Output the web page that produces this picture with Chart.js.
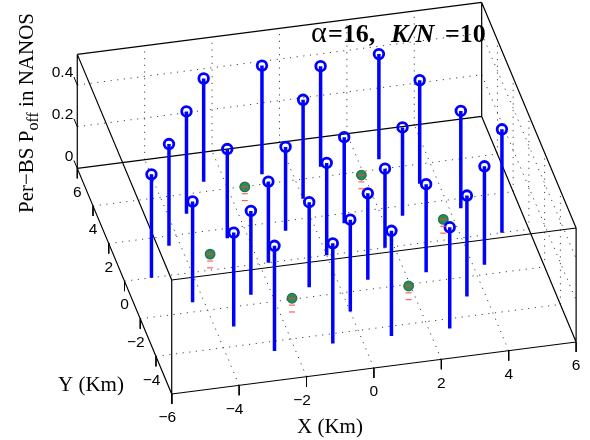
<!DOCTYPE html>
<html>
<head>
<meta charset="utf-8">
<title>Per-BS Poff in NANOS</title>
<script src="https://cdn.jsdelivr.net/npm/chart.js@4"></script>
<style>
  html, body { margin: 0; padding: 0; background: #fff; }
  canvas { display: block; }
</style>
</head>
<body>
<canvas id="stemChart" width="590" height="440"></canvas>
<script>
// Base stations with high P_off (blue stems)
const bsX = [-5.2, -4.33, -3.46, -2.6, -4.33, -2.6, -0.87, -2.6, -1.73, -0.87, -3.46, -2.6, 0, 0.87, 2.6, 3.46,
  0.87, 2.6, 4.33, 5.2, 4.33, 3.46, 2.6, 1.73, 0.87, 0, -0.87, 0, -0.87, 0.87, 2.6];
const bsY = [0, 1.5, 3, 4.5, -1.5, 1.5, 4.5, -1.5, 0, 1.5, -3, -4.5, 3, 4.5, 4.5, 3,
  1.5, 1.5, 1.5, 0, -1.5, -3, -1.5, 0, -1.5, 0, -1.5, -3, -4.5, -4.5, -4.5];
const bsPoff = [0.496, 0.488, 0.491, 0.496, 0.483, 0.428, 0.522, 0.402, 0.389, 0.402, 0.451, 0.505, 0.475, 0.483, 0.505, 0.497,
  0.413, 0.424, 0.467, 0.496, 0.472, 0.485, 0.422, 0.379, 0.414, 0.443, 0.408, 0.441, 0.481, 0.505, 0.486];

// Base stations with low P_off (green markers, red dashes below)
const lowX = [-1.73, -3.46, -1.73, 1.73, 3.46, 1.73];
const lowY = [3, 0, -3, 3, 0, -3];
const lowPoff = [0.093, 0.077, 0.1, 0.078, 0.1, 0.087];
const lowDash1 = [0.06, 0.044, 0.067, 0.045, 0.067, 0.054];
const lowDash2 = [0.027, 0.011, 0.034, 0.012, 0.034, 0.021];

// Axis ticks
const xyTicks = [-6, -4, -2, 0, 2, 4, 6];
const zTicks = [0, 0.2, 0.4];
const zTop = 0.547;

// Fixed 3D view: screen position of the origin and of one unit on each axis
const view = {
  ox: 326.7, oy: 255.2,
  xx: 33.7, xy: -4.33,
  yx: -7.87, yy: -18.8,
  zy: -208.4,
};

function project(x, y, z) {
  return {
    x: view.ox + x * view.xx + y * view.yx,
    y: view.oy + x * view.xy + y * view.yy + z * view.zy,
  };
}

// Polylines joined into one dataset, split by NaN gaps
function segments(list) {
  const pts = [];
  list.forEach(function(seg) {
    pts.push(project(seg[0], seg[1], seg[2]));
    pts.push(project(seg[3], seg[4], seg[5]));
    pts.push({ x: NaN, y: NaN });
  });
  return pts;
}

const gridSegs = [];
[-4, -2, 0, 2, 4].forEach(function(v) {
  gridSegs.push([v, -6, 0, v, 6, 0]);       // floor
  gridSegs.push([-6, v, 0, 6, v, 0]);
  gridSegs.push([v, 6, 0, v, 6, zTop]);     // back wall
  gridSegs.push([6, v, 0, 6, v, zTop]);     // right wall
});
[0.2, 0.4].forEach(function(z) {
  gridSegs.push([-6, 6, z, 6, 6, z]);
  gridSegs.push([6, 6, z, 6, -6, z]);
});

const boxSegs = [
  [-6, -6, 0, 6, -6, 0], [6, -6, 0, 6, 6, 0], [6, 6, 0, -6, 6, 0], [-6, 6, 0, -6, -6, 0],
  [-6, -6, zTop, 6, -6, zTop], [6, -6, zTop, 6, 6, zTop], [6, 6, zTop, -6, 6, zTop], [-6, 6, zTop, -6, -6, zTop],
  [-6, -6, 0, -6, -6, zTop], [6, -6, 0, 6, -6, zTop], [6, 6, 0, 6, 6, zTop], [-6, 6, 0, -6, 6, zTop],
];

const tickSegs = [];
xyTicks.forEach(function(v) {
  tickSegs.push([v, -6, 0, v, -6, -0.048]);
  tickSegs.push([-6, v, 0, -6, v, -0.048]);
});
zTicks.forEach(function(z) {
  tickSegs.push([-6, 6, z, -6, 6.42, z]);
});

const stemSegs = bsX.map(function(x, i) { return [x, bsY[i], 0, x, bsY[i], bsPoff[i]]; });

function markers(xs, ys, zs) {
  return xs.map(function(x, i) { return project(x, ys[i], zs[i]); });
}

function lineSet(list, color, width, order, dash) {
  return {
    data: segments(list),
    showLine: true,
    spanGaps: false,
    borderColor: color,
    borderWidth: width,
    borderDash: dash || [],
    pointRadius: 0,
    order: order,
  };
}

function dashSet(zs) {
  return {
    data: markers(lowX, lowY, zs),
    pointStyle: 'line',
    pointRadius: 3,
    pointBorderColor: '#ff4040',
    pointBorderWidth: 1,
    showLine: false,
    order: 1,
  };
}

const axisLabels = {
  id: 'axisLabels',
  afterDatasetsDraw: function(chart) {
    const c = chart.ctx;
    const px = function(p) { return { x: chart.scales.x.getPixelForValue(p.x), y: chart.scales.y.getPixelForValue(p.y) }; };
    const sans = '15.5px "Liberation Sans", Arial, sans-serif';
    const serif = '"Liberation Serif", "Times New Roman", serif';
    const fmt = function(v) { return v < 0 ? '\u2212' + Math.abs(v) : String(v); };

    c.save();
    c.fillStyle = '#000';
    c.textBaseline = 'middle';
    c.font = sans;

    // X and Y tick labels hang under the floor edges
    c.textAlign = 'center';
    xyTicks.forEach(function(v) {
      const nudge = v < 0 ? -4.5 : 0;
      if (v > -6) {
        const a = px(project(v, -6, -0.115));
        c.fillText(fmt(v), a.x + nudge, a.y);
      }
      const b = px(project(-6, v, -0.115));
      c.fillText(fmt(v), b.x + nudge, b.y);
    });

    // Z tick labels
    c.textAlign = 'right';
    zTicks.forEach(function(z) {
      const p = px(project(-6, 6, z));
      c.fillText(String(z), p.x - 4, p.y - 12);
    });

    // Axis titles
    c.textAlign = 'center';
    c.font = '21px ' + serif;
    c.fillText('Y (Km)', 91, 385);
    c.fillText('X (Km)', 330, 427);

    // Rotated z title with subscript
    c.save();
    c.translate(33, 213);
    c.rotate(-Math.PI / 2);
    c.textAlign = 'left';
    c.textBaseline = 'alphabetic';
    let w = 0;
    const runs = [
      ['Per\u2212BS P', '21px ' + serif, 0],
      ['off', '16px ' + serif, 5],
      [' in NANOS', '21px ' + serif, 0],
    ];
    runs.forEach(function(r) {
      c.font = r[1];
      c.fillText(r[0], w, r[2]);
      w += c.measureText(r[0]).width;
    });
    c.restore();

    // Title
    c.textAlign = 'left';
    c.textBaseline = 'alphabetic';
    const titleRuns = [
      ['\u03b1', '30px ' + serif, 311],
      ['=16,', 'bold 26px ' + serif, 328],
      ['K/N', 'italic bold 26px ' + serif, 391],
      ['=10', 'bold 26px ' + serif, 445],
    ];
    titleRuns.forEach(function(r) {
      c.font = r[1];
      c.fillText(r[0], r[2], 41.5);
    });
    c.restore();
  },
};

new Chart(document.getElementById('stemChart'), {
  type: 'scatter',
  data: {
    datasets: [
      lineSet(gridSegs, '#444', 1, 6, [1.2, 5.5]),
      lineSet(boxSegs, '#000', 1.2, 5),
      lineSet(tickSegs, '#000', 1, 5),
      lineSet(stemSegs, '#0000ff', 3.5, 3),
      {
        data: markers(bsX, bsY, bsPoff),
        pointStyle: 'circle',
        pointRadius: 4.8,
        pointBackgroundColor: 'rgba(255,255,255,0)',
        pointBorderColor: '#0000ff',
        pointBorderWidth: 2.8,
        showLine: false,
        order: 2,
      },
      {
        data: markers(lowX, lowY, lowPoff),
        pointStyle: 'circle',
        pointRadius: 4.8,
        pointBackgroundColor: '#2e8b57',
        pointBorderColor: '#24704a',
        pointBorderWidth: 1.2,
        showLine: false,
        order: 2,
      },
      dashSet(lowPoff),
      dashSet(lowDash1),
      dashSet(lowDash2),
    ],
  },
  options: {
    responsive: false,
    animation: false,
    layout: { padding: 0, autoPadding: false },
    scales: {
      x: { type: 'linear', display: false, min: 0, max: 590 },
      y: { type: 'linear', display: false, min: 0, max: 440, reverse: true },
    },
    plugins: {
      legend: { display: false },
      tooltip: { enabled: false },
    },
  },
  plugins: [axisLabels],
});
</script>
</body>
</html>
